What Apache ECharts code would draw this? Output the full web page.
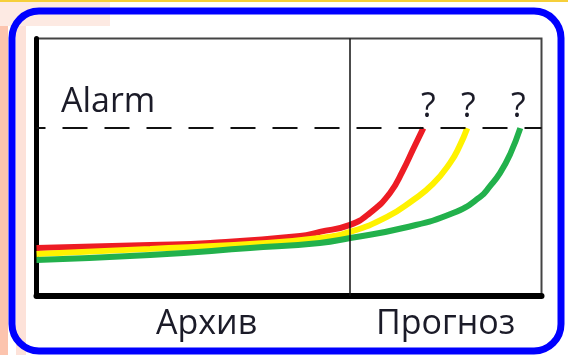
<!DOCTYPE html>
<html>
<head>
<meta charset="utf-8">
<script src="https://cdn.jsdelivr.net/npm/echarts@6/dist/echarts.min.js"></script>
<style>
html, body { margin: 0; padding: 0; background: #fff; }
#chart { width: 568px; height: 355px; }
</style>
</head>
<body>
<div id="chart"></div>
<script>
// значения (x: 0..100, y: 0..100)
var redData = [[0, 18.6], [22.5, 19.8], [34.4, 20.6], [52.2, 23.3], [56.1, 24.9], [62.1, 27.6],
	[66.0, 32.2], [70.0, 40.0], [72.6, 48.9], [74.6, 57.1], [76.6, 65.2]];
var yellowData = [[0, 16.3], [22.5, 18.3], [42.3, 20.2], [56.1, 22.5], [62.1, 24.9], [69.4, 30.7],
	[74.6, 37.3], [78.5, 43.5], [81.9, 51.7], [83.7, 57.9], [85.3, 65.2]];
var greenData = [[0, 14.0], [22.5, 15.9], [42.3, 18.6], [56.1, 20.6], [62.1, 22.5], [72.6, 26.4],
	[82.5, 32.2], [87.8, 38.4], [89.8, 42.7], [91.8, 47.8], [93.8, 55.1], [95.8, 65.2]];
var alarmLevel = 65.2;
var splitX = 62.1;
var labels = ['Alarm', 'Архив', 'Прогноз'];

var font = '"Open Sans", sans-serif';
var textColor = '#1b1b28';

// знак вопроса на последней точке
function withMark(data, dx) {
	var out = data.slice(0, -1).map(function (p) { return { value: p }; });
	out.push({
		value: data[data.length - 1],
		label: {
			show: true,
			position: 'top',
			distance: 4,
			offset: [dx, 0],
			formatter: '?',
			fontFamily: font,
			fontSize: 34,
			color: textColor
		}
	});
	return out;
}

function lineSeries(data, color, dx) {
	return {
		type: 'line',
		smooth: 0.5,
		symbol: 'circle',
		symbolSize: 0,
		showSymbol: true,
		lineStyle: { color: color, width: 6 },
		itemStyle: { color: color },
		label: { show: false },
		emphasis: { disabled: true },
		data: withMark(data, dx)
	};
}

function text(str, x, y) {
	return {
		type: 'text', z: 100, x: x, y: y,
		style: { text: str, font: '34px ' + font, fill: textColor, verticalAlign: 'top' }
	};
}

var myChart = echarts.init(document.getElementById('chart'));
var red = lineSeries(redData, '#ed1c24', 5);
red.markLine = {
	silent: true,
	symbol: ['none', 'none'],
	label: { show: false },
	data: [
		{ yAxis: alarmLevel, lineStyle: { color: '#111', width: 2, type: [25, 17], dashOffset: 16 } },
		{ xAxis: splitX, lineStyle: { color: '#111', width: 1.5, type: 'solid' } }
	]
};

var option = {
	animation: false,
	grid: {
		left: 36.5, right: 26.5, top: 38.5, bottom: 59,
		show: true, borderColor: '#444', borderWidth: 2
	},
	xAxis: {
		type: 'value', min: 0, max: 100,
		axisLine: { show: true, lineStyle: { color: '#000', width: 6 } },
		axisTick: { show: false }, axisLabel: { show: false }, splitLine: { show: false }
	},
	yAxis: {
		type: 'value', min: 0, max: 100,
		axisLine: { show: true, lineStyle: { color: '#000', width: 5 } },
		axisTick: { show: false }, axisLabel: { show: false }, splitLine: { show: false }
	},
	graphic: [
		{ type: 'rect', z: -10, shape: { x: 0, y: 0, width: 8, height: 355 }, style: { fill: '#fcc4ae' } },
		{ type: 'rect', z: -10, shape: { x: 16, y: 0, width: 10, height: 355 }, style: { fill: '#fde2d9' } },
		{ type: 'rect', z: -10, shape: { x: 0, y: 0, width: 110, height: 26 }, style: { fill: '#fdeae3' } },
		{ type: 'rect', z: -9, shape: { x: 0, y: 0, width: 568, height: 2 }, style: { fill: '#f6cf3a' } },
		{ type: 'rect', z: 100, shape: { x: 12, y: 11, width: 549, height: 340, r: 27 },
			style: { fill: 'none', stroke: '#0000ff', lineWidth: 7 } },
		text(labels[0], 61, 85),
		text(labels[1], 156, 307),
		text(labels[2], 376, 307)
	],
	series: [red, lineSeries(yellowData, '#fff200', 1), lineSeries(greenData, '#22b14c', -2)]
};
myChart.setOption(option);
</script>
</body>
</html>
